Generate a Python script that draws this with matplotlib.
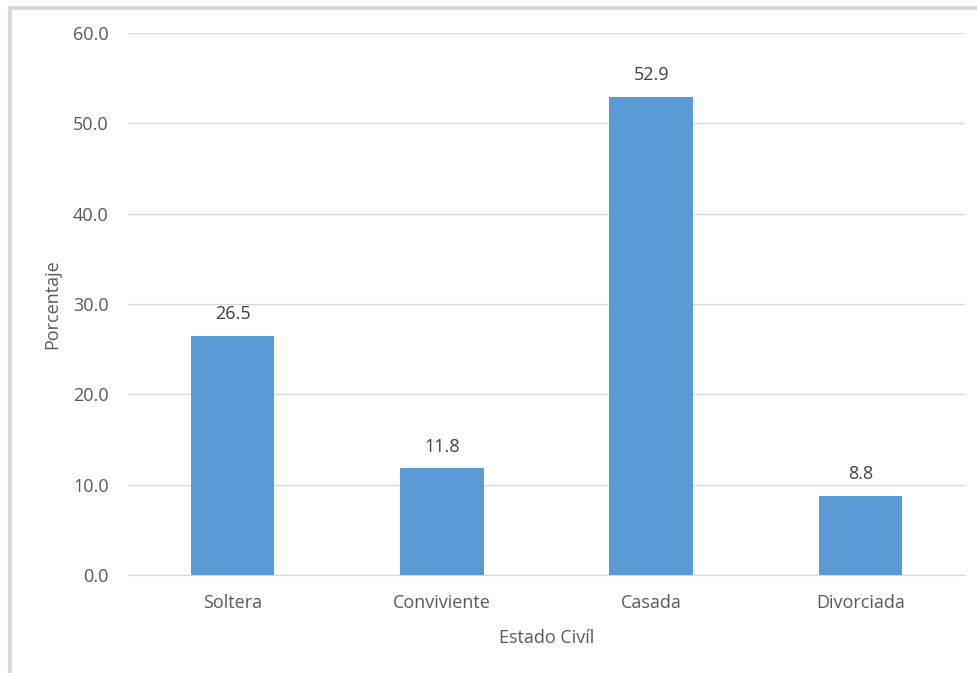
import matplotlib.pyplot as plt
from matplotlib.patches import Rectangle

categorias = ['Soltera', 'Conviviente', 'Casada', 'Divorciada']
porcentajes = [26.5, 11.8, 52.9, 8.8]
yticks = [0, 10, 20, 30, 40, 50, 60]

plt.rcParams['font.family'] = ['Open Sans', 'DejaVu Sans']
gris = '#595959'

fig = plt.figure(figsize=(9.78, 6.73), dpi=100)
ax = fig.add_axes([0.1309, 0.1456, 0.8558, 0.8054])

x = range(len(categorias))
bars = ax.bar(x, porcentajes, width=0.4, color='#5B9BD5', zorder=3)
for b, v in zip(bars, porcentajes):
    ax.text(b.get_x() + b.get_width() / 2, v + 1.4, f'{v:.1f}',
            ha='center', va='bottom', fontsize=13, color='#404040')

ax.set_xlim(-0.5, len(categorias) - 0.5)
ax.set_ylim(0, 60)
ax.set_yticks(yticks)
ax.set_yticklabels([f'{t:.1f}' for t in yticks])
ax.set_xticks(list(x))
ax.set_xticklabels(categorias)
ax.tick_params(axis='both', length=0, labelsize=13, labelcolor=gris)
ax.tick_params(axis='y', pad=14)
ax.tick_params(axis='x', pad=14)
ax.grid(axis='y', color='#d9d9d9', linewidth=1, zorder=0)
for s in ['top', 'right', 'left']:
    ax.spines[s].set_visible(False)
ax.spines['bottom'].set_color('#d9d9d9')
ax.set_xlabel('Estado Civíl', fontsize=13, color=gris, labelpad=12)
ax.set_ylabel('Porcentaje', fontsize=13, color=gris, labelpad=8)

# marco del grafico
fig.patches.append(Rectangle((10 / 978, -0.1), 1.2, (673 - 8) / 673 + 0.1,
                             transform=fig.transFigure, fill=False,
                             edgecolor='#d9d9d9', linewidth=3))

fig.savefig('out.png', dpi=100)
